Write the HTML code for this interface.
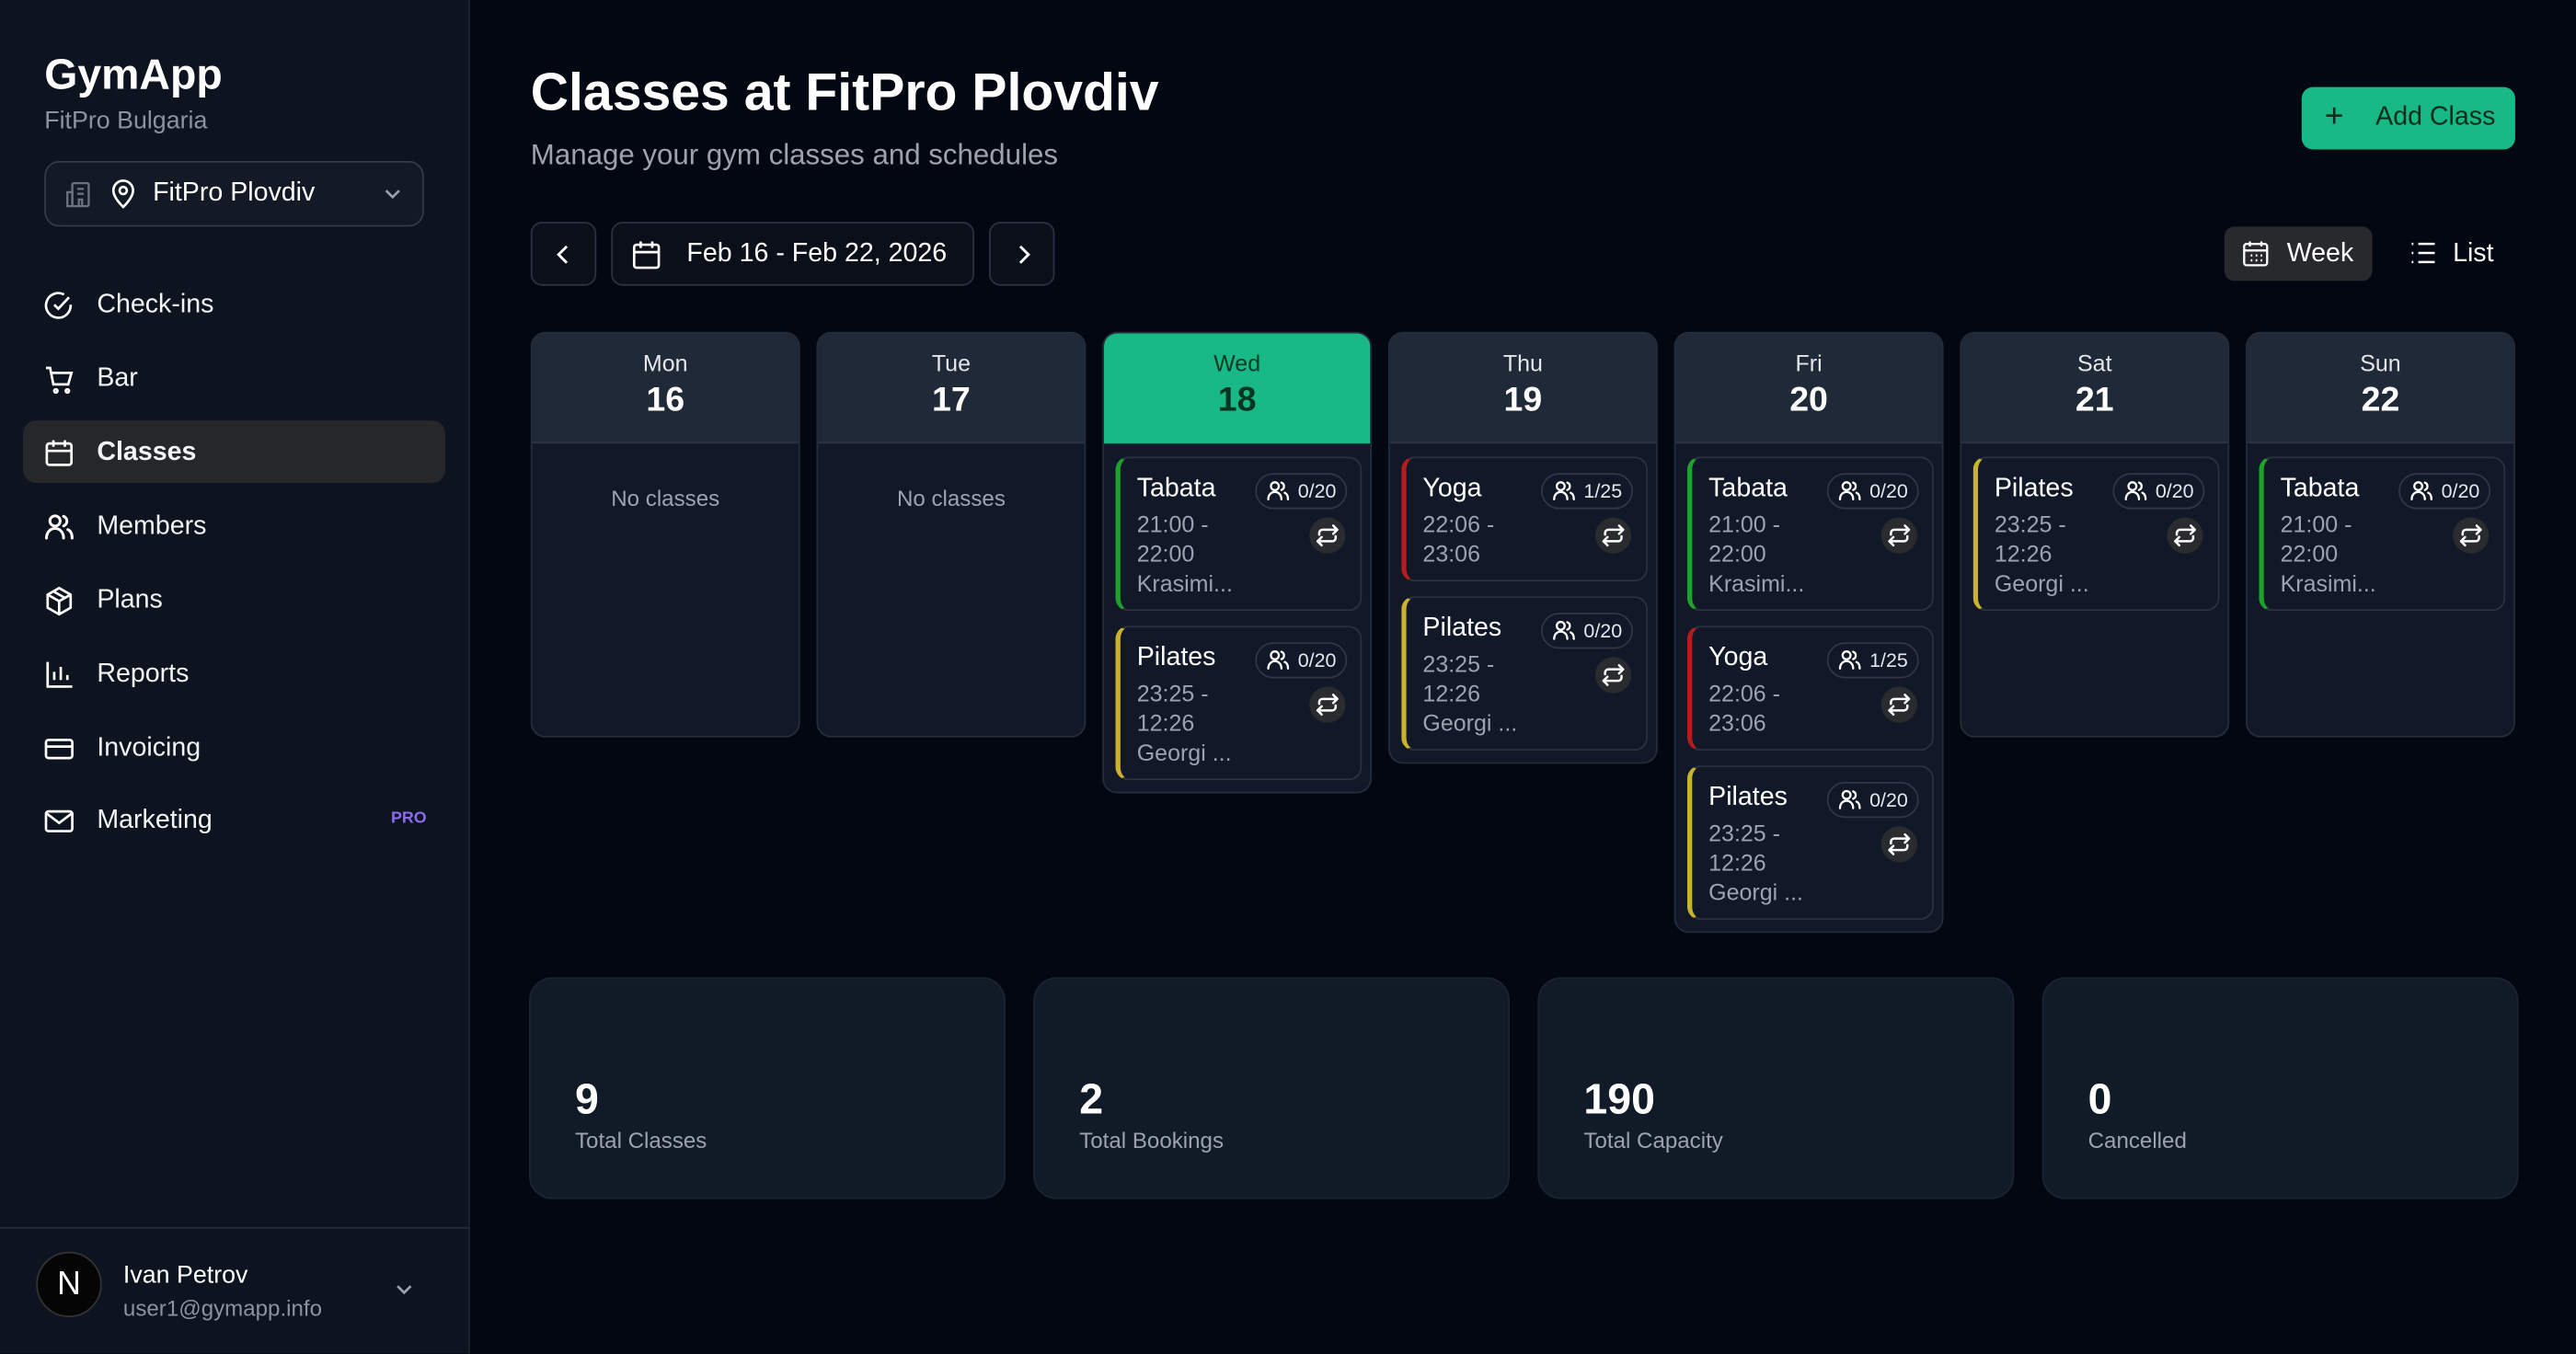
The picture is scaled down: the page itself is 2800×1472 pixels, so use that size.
<!DOCTYPE html>
<html><head><meta charset="utf-8"><style>
*{box-sizing:border-box;margin:0;padding:0}
html,body{width:2800px;height:1472px;overflow:hidden;background:#030712}
#s{position:absolute;left:0;top:0;width:1568px;height:824px;transform:scale(1.785714);transform-origin:0 0;font-family:"Liberation Sans",sans-serif;color:#fff;background:#030712}
.a{position:absolute}
.side{left:0;top:0;width:286px;height:824px;background:#0d131f;border-right:1px solid #1f2530}
.nav{position:absolute;left:27px;font-size:16px;color:#f3f4f6}
.nav svg{position:absolute;left:0;top:0}
.nav span{position:absolute;left:32px;top:0;white-space:nowrap}
.col{position:absolute;top:202px;width:164px;background:#111827;border:1px solid #252d3b;border-radius:9px;overflow:hidden}
.hd{height:67px;background:#1f2937;border-bottom:1px solid #2c3442;text-align:center}
.hd .d{font-size:14px;color:#e5e7eb;padding-top:10px;height:29px}
.hd .n{font-size:21px;font-weight:bold}
.nc{text-align:center;font-size:13.5px;color:#9ca3af;margin-top:26px}
.card{position:absolute;left:7px;width:150px;background:#111827;border:1px solid #2a3240;border-left:3px solid;border-radius:8px}
.card .t{position:absolute;left:10px;top:10px;font-size:16px;font-weight:500;color:#fff}
.card .m{position:absolute;left:10px;top:31px;font-size:14px;line-height:18px;color:#9ca3af;white-space:pre}
.bd{position:absolute;left:82px;top:9px;width:56px;height:22px;border:1px solid #2f3746;border-radius:11px;font-size:12px;color:#e5e7eb;line-height:20px;padding-left:25px}
.bd svg{position:absolute;left:6px;top:3px}
.rp{position:absolute;left:115px;top:36px;width:22px;height:22px;border-radius:50%;background:#2a2b2e}
.rp svg{position:absolute;left:4px;top:4px}
.st{position:absolute;top:595px;width:290px;height:135px;background:#111a27;border:1px solid #1c2433;border-radius:14px}
.st .v{position:absolute;left:27px;top:58px;font-size:26px;font-weight:bold}
.st .l{position:absolute;left:27px;top:91px;font-size:13.5px;color:#9ca3af}
.btn{position:absolute;border:1px solid #2a3140;border-radius:7px;background:#0a0f1a}
</style></head><body><div id="s">
<svg width="0" height="0" style="position:absolute"><defs>
<g id="u" fill="none" stroke="#fff" stroke-width="1.3" stroke-linecap="round"><circle cx="5" cy="4" r="2.4"/><path d="M1 12c0-3 2-4.5 4-4.5s4 1.5 4 4.5M9 1.8a2.4 2.4 0 0 1 0 4.5M11 8c1.5.6 2 2 2 4"/></g>
<g id="r" fill="none" stroke="#fff" stroke-width="1.4" stroke-linecap="round" stroke-linejoin="round"><path d="M2 6.5V5.5a2 2 0 0 1 2-2h9M10.5 1l2.5 2.5L10.5 6M12 7.5v1a2 2 0 0 1-2 2H1M3.5 13L1 10.5 3.5 8"/></g>
</defs></svg>
<div class="a side">
<div class="a" style="left:27px;top:30px;font-size:26px;font-weight:bold">GymApp</div>
<div class="a" style="left:27px;top:65px;font-size:15px;color:#8b93a1">FitPro Bulgaria</div>
<div class="a" style="left:27px;top:98px;width:231px;height:40px;border:1px solid #343b48;border-radius:9px;background:#131a26">
<svg class="a" style="left:12px;top:11px" width="17" height="17" viewBox="0 0 17 17" fill="none" stroke="#6b7280" stroke-width="1.3"><rect x="4" y="1.5" width="10" height="14" rx="1"/><path d="M1 7h3v8.5H1zM7 5h4M7 8h4M8 15.5v-4h2v4"/></svg>
<svg class="a" style="left:39px;top:10px" width="16" height="18" viewBox="0 0 16 18" fill="none" stroke="#fff" stroke-width="1.5"><path d="M8 17s6-5.5 6-10A6 6 0 0 0 2 7c0 4.5 6 10 6 10z"/><circle cx="8" cy="7" r="2.2"/></svg>
<div class="a" style="left:65px;top:10px;font-size:16px">FitPro Plovdiv</div>
<svg class="a" style="left:205px;top:14px" width="12" height="10" viewBox="0 0 12 10" fill="none" stroke="#9ca3af" stroke-width="1.5"><path d="M2 3l4 4 4-4"/></svg>
</div>
<div class="a" style="left:14px;top:256px;width:257px;height:38px;background:#262729;border-radius:8px"></div>
<div class="nav" style="top:177px"><svg width="18" height="18" viewBox="0 0 18 18" fill="none" stroke="#fff" stroke-width="1.5"><path d="M16 8.5A7.5 7.5 0 1 1 12 2.3"/><path d="M6 8.5l2.5 2.5L15 4"/></svg><span>Check-ins</span></div>
<div class="nav" style="top:222px"><svg width="18" height="18" viewBox="0 0 18 18" fill="none" stroke="#fff" stroke-width="1.5"><path d="M1 2h2.5l2 10h9l2-7H4.5"/><circle cx="7" cy="16" r="1"/><circle cx="14" cy="16" r="1"/></svg><span>Bar</span></div>
<div class="nav" style="top:267px;font-weight:bold"><svg width="18" height="18" viewBox="0 0 18 18" fill="none" stroke="#fff" stroke-width="1.5"><rect x="1.5" y="3" width="15" height="13" rx="1.5"/><path d="M1.5 7.5h15M5.5 1v4M12.5 1v4"/></svg><span>Classes</span></div>
<div class="nav" style="top:312px"><svg width="18" height="18" viewBox="0 0 18 18"><use href="#u" transform="scale(1.3)"/></svg><span>Members</span></div>
<div class="nav" style="top:357px"><svg width="18" height="18" viewBox="0 0 18 18" fill="none" stroke="#fff" stroke-width="1.5" stroke-linejoin="round"><path d="M9 1l7 4v8l-7 4-7-4V5zM2 5l7 4 7-4M9 9v8M5.5 3l7 4"/></svg><span>Plans</span></div>
<div class="nav" style="top:402px"><svg width="18" height="18" viewBox="0 0 18 18" fill="none" stroke="#fff" stroke-width="1.5"><path d="M2 1v15h15M6 12V7M10 12V4M14 12V9"/></svg><span>Reports</span></div>
<div class="nav" style="top:447px"><svg width="18" height="18" viewBox="0 0 18 18" fill="none" stroke="#fff" stroke-width="1.5"><rect x="1" y="3.5" width="16" height="11" rx="1.5"/><path d="M1 7.5h16"/></svg><span>Invoicing</span></div>
<div class="nav" style="top:491px"><svg width="18" height="18" viewBox="0 0 18 18" fill="none" stroke="#fff" stroke-width="1.5"><rect x="1" y="3" width="16" height="12" rx="1.5"/><path d="M1 4l8 6 8-6"/></svg><span>Marketing</span></div>
<div class="a" style="left:238px;top:493px;font-size:10px;font-weight:bold;color:#8b6cf0">PRO</div>
<div class="a" style="left:0;top:747px;width:286px;height:1px;background:#262d3a"></div>
<div class="a" style="left:22px;top:762px;width:40px;height:40px;border-radius:50%;background:#050505;border:1px solid #333;color:#fff;font-size:20px;text-align:center;line-height:38px">N</div>
<div class="a" style="left:75px;top:768px;font-size:15px">Ivan Petrov</div>
<div class="a" style="left:75px;top:789px;font-size:13.5px;color:#8b93a1">user1@gymapp.info</div>
<svg class="a" style="left:240px;top:780px" width="12" height="10" viewBox="0 0 12 10" fill="none" stroke="#9ca3af" stroke-width="1.5"><path d="M2 3l4 4 4-4"/></svg>
</div>

<div class="a" style="left:323px;top:38px;font-size:32px;font-weight:bold">Classes at FitPro Plovdiv</div>
<div class="a" style="left:323px;top:84px;font-size:17.5px;color:#9ca3af">Manage your gym classes and schedules</div>
<div class="a" style="left:1401px;top:53px;width:130px;height:38px;background:#19b985;border-radius:7px;color:#062b1f;font-size:16px">
<div class="a" style="left:14px;top:7px;font-size:20px">+</div><div class="a" style="left:45px;top:10px">Add Class</div></div>

<div class="btn" style="left:323px;top:135px;width:40px;height:39px"><svg class="a" style="left:13px;top:12px" width="12" height="14" viewBox="0 0 12 14" fill="none" stroke="#fff" stroke-width="1.6"><path d="M8 2L3 7l5 5"/></svg></div>
<div class="btn" style="left:372px;top:135px;width:221px;height:39px">
<svg class="a" style="left:12px;top:10px" width="17" height="18" viewBox="0 0 17 18" fill="none" stroke="#fff" stroke-width="1.5"><rect x="1" y="3" width="15" height="14" rx="1.5"/><path d="M1 7.5h15M5 1v4M12 1v4"/></svg>
<div class="a" style="left:45px;top:10px;font-size:16px">Feb 16 - Feb 22, 2026</div></div>
<div class="btn" style="left:602px;top:135px;width:40px;height:39px"><svg class="a" style="left:14px;top:12px" width="12" height="14" viewBox="0 0 12 14" fill="none" stroke="#fff" stroke-width="1.6"><path d="M4 2l5 5-5 5"/></svg></div>
<div class="a" style="left:1354px;top:138px;width:90px;height:33px;background:#28292c;border-radius:6px">
<svg class="a" style="left:11px;top:8px" width="16" height="17" viewBox="0 0 16 17" fill="none" stroke="#fff" stroke-width="1.3"><rect x="1" y="2.5" width="14" height="13" rx="1.5"/><path d="M1 6.5h14M4.5 1v3M11.5 1v3M5 9.5h1M8 9.5h1M11 9.5h1M5 12.5h1M8 12.5h1M11 12.5h1"/></svg>
<div class="a" style="left:38px;top:8px;font-size:16px">Week</div></div>
<svg class="a" style="left:1467px;top:147px" width="16" height="14" viewBox="0 0 16 14" fill="none" stroke="#fff" stroke-width="1.4"><path d="M1 1.5h1M1 7h1M1 12.5h1M5 1.5h10M5 7h10M5 12.5h10"/></svg>
<div class="a" style="left:1493px;top:146px;font-size:16px">List</div>

<div class="col" style="left:323px;height:247px"><div class="hd"><div class="d">Mon</div><div class="n">16</div></div><div class="nc">No classes</div></div>
<div class="col" style="left:497px;height:247px"><div class="hd"><div class="d">Tue</div><div class="n">17</div></div><div class="nc">No classes</div></div>
<div class="col" style="left:671px;height:281px"><div class="hd" style="background:#19b985;border-bottom-color:#19b985"><div class="d" style="color:#063a28">Wed</div><div class="n" style="color:#053324">18</div></div>
<div class="card" style="top:75px;height:94px;border-left-color:#20a02c"><div class="t">Tabata</div><div class="m">21:00 -
22:00
Krasimi...</div><div class="bd"><svg width="14" height="13"><use href="#u"/></svg>0/20</div><div class="rp"><svg width="14" height="14"><use href="#r"/></svg></div></div>
<div class="card" style="top:178px;height:94px;border-left-color:#c9b22e"><div class="t">Pilates</div><div class="m">23:25 -
12:26
Georgi ...</div><div class="bd"><svg width="14" height="13"><use href="#u"/></svg>0/20</div><div class="rp"><svg width="14" height="14"><use href="#r"/></svg></div></div>
</div>
<div class="col" style="left:845px;height:263px"><div class="hd"><div class="d">Thu</div><div class="n">19</div></div>
<div class="card" style="top:75px;height:76px;border-left-color:#b51d1d"><div class="t">Yoga</div><div class="m">22:06 -
23:06</div><div class="bd"><svg width="14" height="13"><use href="#u"/></svg>1/25</div><div class="rp"><svg width="14" height="14"><use href="#r"/></svg></div></div>
<div class="card" style="top:160px;height:94px;border-left-color:#c9b22e"><div class="t">Pilates</div><div class="m">23:25 -
12:26
Georgi ...</div><div class="bd"><svg width="14" height="13"><use href="#u"/></svg>0/20</div><div class="rp"><svg width="14" height="14"><use href="#r"/></svg></div></div>
</div>
<div class="col" style="left:1019px;height:366px"><div class="hd"><div class="d">Fri</div><div class="n">20</div></div>
<div class="card" style="top:75px;height:94px;border-left-color:#20a02c"><div class="t">Tabata</div><div class="m">21:00 -
22:00
Krasimi...</div><div class="bd"><svg width="14" height="13"><use href="#u"/></svg>0/20</div><div class="rp"><svg width="14" height="14"><use href="#r"/></svg></div></div>
<div class="card" style="top:178px;height:76px;border-left-color:#b51d1d"><div class="t">Yoga</div><div class="m">22:06 -
23:06</div><div class="bd"><svg width="14" height="13"><use href="#u"/></svg>1/25</div><div class="rp"><svg width="14" height="14"><use href="#r"/></svg></div></div>
<div class="card" style="top:263px;height:94px;border-left-color:#c9b22e"><div class="t">Pilates</div><div class="m">23:25 -
12:26
Georgi ...</div><div class="bd"><svg width="14" height="13"><use href="#u"/></svg>0/20</div><div class="rp"><svg width="14" height="14"><use href="#r"/></svg></div></div>
</div>
<div class="col" style="left:1193px;height:247px"><div class="hd"><div class="d">Sat</div><div class="n">21</div></div>
<div class="card" style="top:75px;height:94px;border-left-color:#c9b22e"><div class="t">Pilates</div><div class="m">23:25 -
12:26
Georgi ...</div><div class="bd"><svg width="14" height="13"><use href="#u"/></svg>0/20</div><div class="rp"><svg width="14" height="14"><use href="#r"/></svg></div></div>
</div>
<div class="col" style="left:1367px;height:247px"><div class="hd"><div class="d">Sun</div><div class="n">22</div></div>
<div class="card" style="top:75px;height:94px;border-left-color:#20a02c"><div class="t">Tabata</div><div class="m">21:00 -
22:00
Krasimi...</div><div class="bd"><svg width="14" height="13"><use href="#u"/></svg>0/20</div><div class="rp"><svg width="14" height="14"><use href="#r"/></svg></div></div>
</div>

<div class="st" style="left:322px"><div class="v">9</div><div class="l">Total Classes</div></div>
<div class="st" style="left:629px"><div class="v">2</div><div class="l">Total Bookings</div></div>
<div class="st" style="left:936px"><div class="v">190</div><div class="l">Total Capacity</div></div>
<div class="st" style="left:1243px"><div class="v">0</div><div class="l">Cancelled</div></div>
</div></body></html>
